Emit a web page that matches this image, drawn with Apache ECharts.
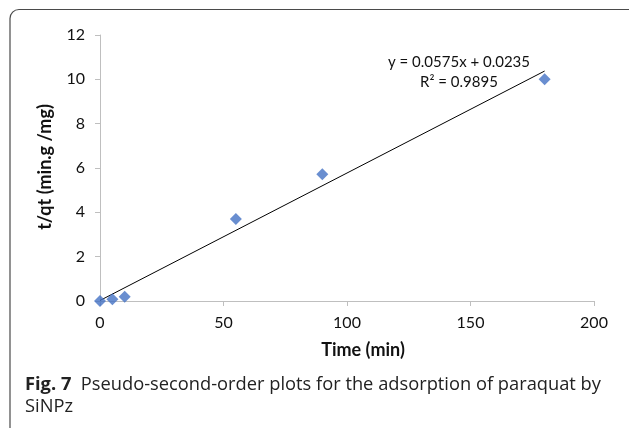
<!DOCTYPE html>
<html>
<head>
<meta charset="utf-8">
<script src="https://cdn.jsdelivr.net/npm/echarts@6/dist/echarts.min.js"></script>
<style>
html,body{margin:0;padding:0;background:#fff;}
#chart{width:629px;height:428px;}
</style>
</head>
<body>
<div id="chart"></div>
<script>
// Data
const timeMin = [0, 5, 10, 55, 90, 180];
const tOverQt = [0, 0.08, 0.19, 3.7, 5.72, 10.0];
const trendX = [0, 180];
const trendY = [0.0235, 10.3735];
const xTicks = [0, 50, 100, 150, 200];
const yTicks = [0, 2, 4, 6, 8, 10, 12];
const eqLine1 = 'y = 0.0575x + 0.0235';
const eqLine2 = 'R² = 0.9895';
const xTitle = 'Time (min)';
const yTitle = 't/qt (min.g /mg)';
const captionBold = 'Fig. 7';
const captionRest = 'Pseudo-second-order plots for the adsorption of paraquat by';
const captionLine2 = 'SiNPz';

const chart = echarts.init(document.getElementById('chart'), null, {renderer: 'canvas'});
const axisFont = 'Lato, "Open Sans", sans-serif';
const capFont = '"Open Sans", sans-serif';
const option = {
  animation: false,
  backgroundColor: '#fff',
  grid: {left: 100, top: 35, right: 35, bottom: 127, containLabel: false},
  xAxis: {
    type: 'value', min: xTicks[0], max: xTicks[xTicks.length - 1], interval: 50,
    axisLine: {show: true, lineStyle: {color: '#BFBFBF', width: 1}},
    axisTick: {show: true, length: 5, lineStyle: {color: '#BFBFBF'}},
    splitLine: {show: false},
    axisLabel: {color: '#111', fontSize: 16, margin: 14, fontFamily: axisFont}
  },
  yAxis: {
    type: 'value', min: yTicks[0], max: yTicks[yTicks.length - 1], interval: 2,
    axisLine: {show: true, lineStyle: {color: '#BFBFBF', width: 1}},
    axisTick: {show: true, length: 5, lineStyle: {color: '#BFBFBF'}},
    splitLine: {show: false},
    axisLabel: {color: '#111', fontSize: 16, margin: 15, fontFamily: axisFont}
  },
  series: [
    {
      type: 'line',
      data: trendX.map((x, i) => [x, trendY[i]]),
      showSymbol: false, symbol: 'none',
      lineStyle: {color: '#000', width: 1},
      z: 2
    },
    {
      type: 'scatter',
      data: timeMin.map((x, i) => [x, tOverQt[i]]),
      symbol: 'diamond', symbolSize: [12, 12],
      itemStyle: {color: '#4472C4'},
      z: 3
    }
  ],
  graphic: [
    {type: 'rect', shape: {x: 10, y: 9.5, width: 640, height: 440, r: 9},
     style: {fill: 'none', stroke: '#4a4a4a', lineWidth: 1.2}, z: 0, silent: true},
    {type: 'text', x: 459, y: 62, style: {text: eqLine1, fill: '#111', font: '15px ' + axisFont, textAlign: 'center', textVerticalAlign: 'middle'}},
    {type: 'text', x: 459, y: 82, style: {text: eqLine2, fill: '#111', font: '15px ' + axisFont, textAlign: 'center', textVerticalAlign: 'middle'}},
    {type: 'text', x: 363, y: 350, style: {text: xTitle, fill: '#111', font: 'bold 18px ' + axisFont, textAlign: 'center', textVerticalAlign: 'middle'}},
    {type: 'text', x: 45, y: 167, rotation: Math.PI / 2, style: {text: yTitle, fill: '#111', font: 'bold 18px ' + axisFont, textAlign: 'center', textVerticalAlign: 'middle'}},
    {type: 'text', x: 25, y: 385, style: {
      text: '{b|' + captionBold + '}  ' + captionRest,
      font: '18.3px ' + capFont, fill: '#222', textVerticalAlign: 'middle',
      rich: {b: {fontWeight: 'bold', fontSize: 18.3, fontFamily: capFont, fill: '#222'}}
    }},
    {type: 'text', x: 25, y: 407, style: {text: captionLine2, font: '18.3px ' + capFont, fill: '#222', textVerticalAlign: 'middle'}}
  ]
};
chart.setOption(option);
</script>
</body>
</html>
